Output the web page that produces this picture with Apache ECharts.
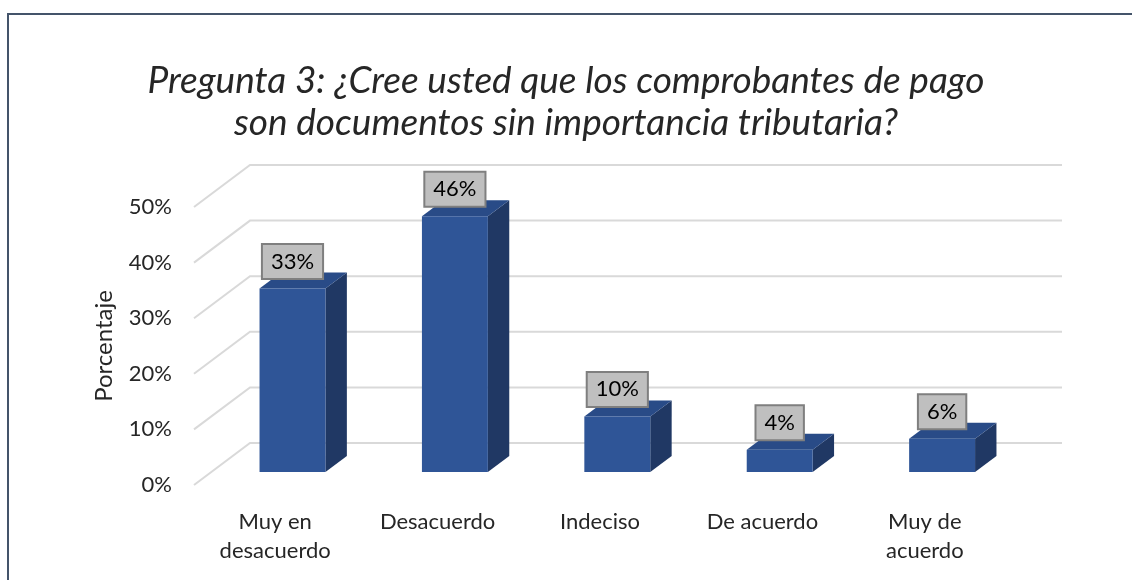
<!DOCTYPE html>
<html>
<head>
<meta charset="utf-8">
<script src="https://cdn.jsdelivr.net/npm/echarts@6/dist/echarts.min.js"></script>
<style>
  body { margin: 0; background: #fff; }
  #chart { width: 1132px; height: 580px; }
</style>
</head>
<body>
<div id="chart"></div>
<script>
// datos del gráfico
const categories = ['Muy en\ndesacuerdo', 'Desacuerdo', 'Indeciso', 'De acuerdo', 'Muy de\nacuerdo'];
const values = [33, 46, 10, 4, 6];
const yTicks = [0, 10, 20, 30, 40, 50];

const FONT = 'Lato';
// desplazamientos de profundidad (efecto 3D)
const WALL = [56, -42];      // pared del fondo
const FRONT = [17.3, -13];   // cara frontal de las barras
const DEPTH = [21.4, -16];   // profundidad de la barra

const chart = echarts.init(document.getElementById('chart'));

const option = {
  backgroundColor: '#fff',
  title: {
    text: 'Pregunta 3: ¿Cree usted que los comprobantes de pago\nson documentos sin importancia tributaria?',
    left: 'center',
    top: 55,
    textStyle: {
      fontFamily: FONT,
      fontStyle: 'italic',
      fontWeight: 'normal',
      fontSize: 37,
      lineHeight: 42,
      color: '#262626'
    }
  },
  graphic: [{
    type: 'rect',
    shape: { x: 8, y: 14, width: 1300, height: 800 },
    style: { fill: 'none', stroke: '#44546A', lineWidth: 2 },
    silent: true
  }],
  grid: { left: 194, right: 126, top: 207, bottom: 95 },
  xAxis: {
    type: 'category',
    data: categories,
    axisLine: { show: false },
    axisTick: { show: false },
    axisLabel: {
      fontFamily: FONT,
      fontSize: 22,
      lineHeight: 29,
      color: '#262626',
      margin: 22,
      interval: 0
    }
  },
  yAxis: {
    type: 'value',
    min: 0,
    max: 50,
    interval: 10,
    name: 'Porcentaje',
    nameLocation: 'middle',
    nameGap: 78,
    nameRotate: 90,
    nameTextStyle: { fontFamily: FONT, fontSize: 24, color: '#262626' },
    axisLine: { show: false },
    axisTick: { show: false },
    splitLine: { show: false },
    axisLabel: {
      fontFamily: FONT,
      fontSize: 22,
      color: '#262626',
      margin: 22,
      padding: [8, 0, 0, 0],
      formatter: '{value}%'
    }
  },
  series: [
    {
      // líneas de división en perspectiva
      type: 'custom',
      silent: true,
      data: yTicks.map(t => [0, t]),
      renderItem: function (params, api) {
        const cs = params.coordSys;
        const y = api.coord([0, api.value(1)])[1];
        return {
          type: 'polyline',
          shape: {
            points: [
              [cs.x, y],
              [cs.x + WALL[0], y + WALL[1]],
              [cs.x + cs.width + WALL[0], y + WALL[1]]
            ]
          },
          style: { stroke: '#D9D9D9', lineWidth: 2, fill: 'none' }
        };
      },
      z: 1
    },
    {
      // barras 3D con etiqueta
      type: 'custom',
      data: values.map((v, i) => [i, v]),
      renderItem: function (params, api) {
        const i = api.value(0);
        const v = api.value(1);
        const p0 = api.coord([i, 0]);
        const p1 = api.coord([i, v]);
        const bw = api.size([1, 0])[0] * 0.406;
        const cx = p0[0] + FRONT[0];
        const x0 = cx - bw / 2;
        const x1 = cx + bw / 2;
        const yb = p0[1] + FRONT[1];
        const yt = p1[1] + FRONT[1];
        return {
          type: 'group',
          children: [
            {
              type: 'polygon',
              shape: { points: [[x1, yt], [x1 + DEPTH[0], yt + DEPTH[1]], [x1 + DEPTH[0], yb + DEPTH[1]], [x1, yb]] },
              style: { fill: '#203864' }
            },
            {
              type: 'polygon',
              shape: { points: [[x0, yt], [x0 + DEPTH[0], yt + DEPTH[1]], [x1 + DEPTH[0], yt + DEPTH[1]], [x1, yt]] },
              style: { fill: '#294B87' }
            },
            {
              type: 'rect',
              shape: { x: x0, y: yt, width: bw, height: yb - yt },
              style: { fill: '#2F5597' }
            },
            {
              type: 'text',
              style: {
                text: v + '%',
                x: cx,
                y: yt - 27,
                align: 'center',
                verticalAlign: 'middle',
                fontFamily: FONT,
                fontSize: 22,
                fill: '#000',
                backgroundColor: '#BFBFBF',
                borderColor: '#7F7F7F',
                borderWidth: 2,
                padding: [6, 8, 5, 8]
              },
              z2: 10
            }
          ]
        };
      },
      z: 2
    }
  ]
};

chart.setOption(option);
</script>
</body>
</html>
